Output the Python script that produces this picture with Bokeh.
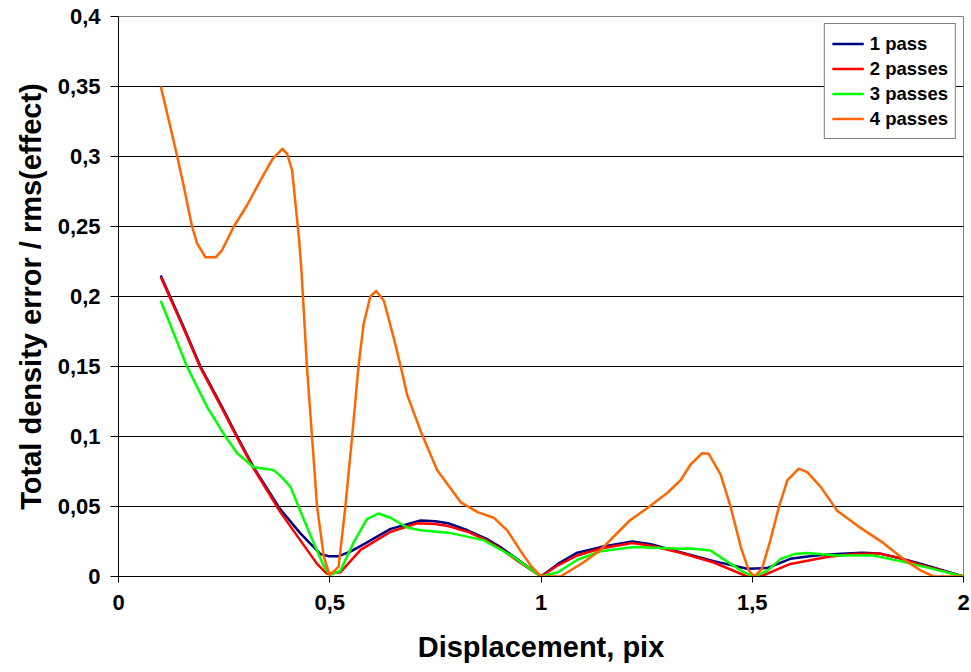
from bokeh.plotting import figure
from bokeh.models import Range1d, FixedTicker, Legend, LegendItem
from bokeh.embed import file_html
from bokeh.resources import INLINE

# ---- data ----
x1 = [0.10, 0.15, 0.194, 0.24, 0.281, 0.32, 0.383, 0.43, 0.478, 0.498, 0.521, 0.55, 0.58, 0.644, 0.715,
      0.75, 0.78, 0.826, 0.87, 0.904, 0.95, 1.0, 1.04, 1.086, 1.141, 1.216, 1.26, 1.33, 1.409, 1.488,
      1.535, 1.59, 1.65, 1.70, 1.76, 1.80, 1.85, 1.90, 2.0]
y1 = [0.215, 0.181, 0.150, 0.124, 0.100, 0.078, 0.048, 0.031, 0.016, 0.0145, 0.0145, 0.018, 0.023, 0.034, 0.040,
      0.0395, 0.038, 0.033, 0.027, 0.021, 0.011, 0.0, 0.009, 0.017, 0.021, 0.025, 0.023, 0.0174, 0.011, 0.0055,
      0.006, 0.0126, 0.015, 0.016, 0.017, 0.0165, 0.013, 0.009, 0.0]

x2 = [0.10, 0.15, 0.194, 0.24, 0.281, 0.32, 0.383, 0.43, 0.47, 0.493, 0.525, 0.573, 0.644, 0.707,
      0.75, 0.78, 0.826, 0.87, 0.904, 0.95, 1.0, 1.04, 1.086, 1.141, 1.216, 1.26, 1.33, 1.409, 1.488,
      1.52, 1.59, 1.677, 1.74, 1.80, 1.85, 1.90, 2.0]
y2 = [0.214, 0.180, 0.149, 0.123, 0.099, 0.077, 0.046, 0.026, 0.009, 0.002, 0.003, 0.019, 0.032, 0.038,
      0.0375, 0.036, 0.032, 0.026, 0.020, 0.010, 0.0, 0.008, 0.015, 0.020, 0.024, 0.022, 0.017, 0.010, 0.0,
      0.0, 0.009, 0.014, 0.016, 0.0165, 0.013, 0.008, 0.0]

x3 = [0.10, 0.162, 0.21, 0.253, 0.281, 0.32, 0.367, 0.383, 0.407, 0.43, 0.462, 0.485, 0.50, 0.525, 0.556,
      0.588, 0.615, 0.644, 0.683, 0.715, 0.786, 0.864, 0.935, 1.0, 1.04, 1.086, 1.141, 1.22, 1.33, 1.354,
      1.401, 1.449, 1.48, 1.505, 1.535, 1.567, 1.60, 1.63, 1.70, 1.787, 1.85, 1.92, 2.0]
y3 = [0.197, 0.150, 0.121, 0.100, 0.088, 0.078, 0.076, 0.072, 0.064, 0.047, 0.024, 0.008, 0.001, 0.004, 0.024,
      0.041, 0.045, 0.042, 0.035, 0.033, 0.031, 0.026, 0.014, 0.0, 0.003, 0.012, 0.018, 0.021, 0.0198, 0.020,
      0.0186, 0.009, 0.003, 0.0, 0.004, 0.0126, 0.016, 0.0167, 0.015, 0.015, 0.011, 0.006, 0.0]

x4 = [0.10, 0.119, 0.139, 0.155, 0.174, 0.186, 0.206, 0.230, 0.245, 0.273, 0.304, 0.336, 0.364, 0.388, 0.399,
      0.411, 0.419, 0.427, 0.433, 0.446, 0.458, 0.470, 0.486, 0.50, 0.521, 0.537, 0.553, 0.568, 0.580, 0.596,
      0.610, 0.628, 0.651, 0.668, 0.683, 0.715, 0.754, 0.81, 0.85, 0.888, 0.92, 0.95, 0.975, 1.0, 1.046,
      1.10, 1.141, 1.21, 1.252, 1.30, 1.330, 1.354, 1.381, 1.397, 1.425, 1.449, 1.473, 1.492, 1.505, 1.523,
      1.543, 1.563, 1.583, 1.610, 1.630, 1.662, 1.701, 1.75, 1.81, 1.86, 1.90, 1.93, 2.0]
y4 = [0.350, 0.326, 0.300, 0.278, 0.250, 0.238, 0.228, 0.228, 0.233, 0.250, 0.265, 0.283, 0.298, 0.3055, 0.302,
      0.290, 0.266, 0.242, 0.219, 0.150, 0.100, 0.050, 0.014, 0.001, 0.007, 0.050, 0.100, 0.150, 0.180, 0.200,
      0.204, 0.197, 0.171, 0.150, 0.130, 0.104, 0.076, 0.053, 0.046, 0.042, 0.033, 0.019, 0.008, 0.0, 0.0,
      0.010, 0.019, 0.040, 0.049, 0.060, 0.0686, 0.080, 0.088, 0.0876, 0.073, 0.0495, 0.021, 0.004, 0.0, 0.0055,
      0.026, 0.0495, 0.0686, 0.077, 0.0745, 0.064, 0.047, 0.036, 0.024, 0.012, 0.004, 0.0, 0.0]

series_names = ["1 pass", "2 passes", "3 passes", "4 passes"]
series_colors = ["#000080", "#FF0000", "#00FF00", "#FF6600"]

x_ticks = [0, 0.5, 1, 1.5, 2]
x_tick_labels = ["0", "0,5", "1", "1,5", "2"]
y_ticks = [0, 0.05, 0.1, 0.15, 0.2, 0.25, 0.3, 0.35, 0.4]
y_tick_labels = ["0", "0,05", "0,1", "0,15", "0,2", "0,25", "0,3", "0,35", "0,4"]

FONT = "Liberation Sans"

p = figure(width=971, height=672, x_range=Range1d(0, 2), y_range=Range1d(0, 0.4),
           output_backend="svg", toolbar_location=None,
           min_border_left=118, min_border_right=8, min_border_top=16, min_border_bottom=96)

p.background_fill_color = "white"
p.border_fill_color = "white"
p.outline_line_color = "#808080"
p.outline_line_width = 1

p.xgrid.visible = False
p.ygrid.ticker = FixedTicker(ticks=y_ticks[:-1])
p.ygrid.grid_line_color = "black"
p.ygrid.grid_line_width = 1

for ax in (p.xaxis, p.yaxis):
    ax.axis_line_color = "black"
    ax.major_tick_line_color = "black"
    ax.minor_tick_line_color = None
    ax.major_tick_in = 0
    ax.major_label_text_font = FONT
    ax.major_label_text_font_style = "bold"
    ax.major_label_text_font_size = "22px"
    ax.major_label_text_color = "black"
    ax.axis_label_text_font = FONT
    ax.axis_label_text_font_style = "bold"
    ax.axis_label_text_font_size = "29px"
    ax.axis_label_text_color = "black"

p.xaxis.ticker = FixedTicker(ticks=x_ticks)
p.xaxis.major_label_overrides = {t: l for t, l in zip(x_ticks, x_tick_labels)}
p.xaxis.major_tick_out = 6
p.xaxis.major_label_standoff = 12
p.xaxis.axis_label = "Displacement, pix"
p.xaxis.axis_label_standoff = 18

p.yaxis.ticker = FixedTicker(ticks=y_ticks)
p.yaxis.major_label_overrides = {t: l for t, l in zip(y_ticks, y_tick_labels)}
p.yaxis.major_tick_out = 8
p.yaxis.major_label_standoff = 10
p.yaxis.axis_label = "Total density error / rms(effect)"
p.yaxis.axis_label_standoff = 8

items = []
for xs, ys, name, col in zip([x1, x2, x3, x4], [y1, y2, y3, y4], series_names, series_colors):
    r = p.line(xs, ys, line_color=col, line_width=2.5, line_join="round")
    items.append(LegendItem(label=name, renderers=[r]))

legend = Legend(items=items, location="top_right", margin=7, padding=7, spacing=0,
                label_height=25, glyph_height=25, glyph_width=32, label_standoff=6,
                border_line_color="black", border_line_width=1,
                background_fill_color="white", background_fill_alpha=1.0,
                label_text_font=FONT, label_text_font_style="bold",
                label_text_font_size="18.5px", label_text_color="black")
p.add_layout(legend)

open("out.html", "w").write(file_html(p, INLINE))
